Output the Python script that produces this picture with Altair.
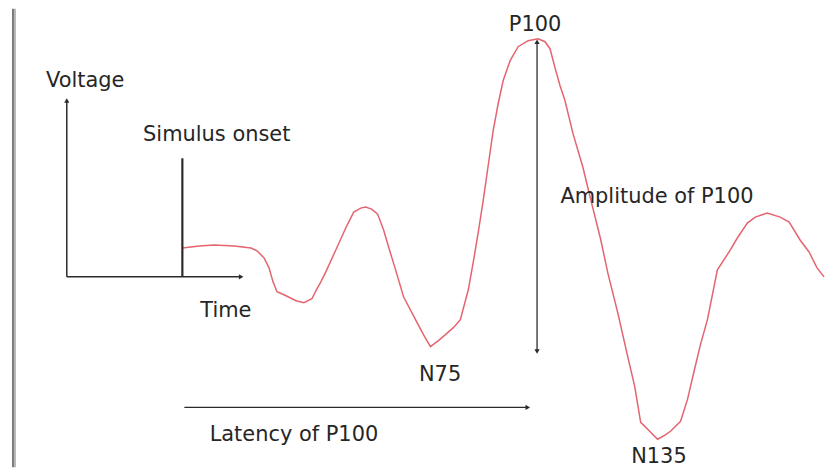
import altair as alt
import pandas as pd

# ---- Waveform (time in ms after stimulus onset, voltage in µV) ----
wave_time_ms = [0, 5.1, 9.6, 15.6, 20.7, 22.5, 24.6, 26.1, 27.3, 28.5, 30.6, 34.2, 36.6,
                39.0, 40.2, 41.7, 43.2, 46.2, 49.2, 51.6, 53.7, 55.2, 57.0, 58.8, 60.6,
                62.1, 64.2, 66.6, 70.2, 72.6, 74.7, 77.1, 79.2, 81.6, 83.7, 86.1, 87.6,
                89.1, 90.6, 92.1, 93.6, 95.1, 96.6, 98.7, 101.1, 104.1, 107.1, 109.2,
                110.7, 112.2, 113.7, 115.2, 117.6, 120.6, 123.0, 126.0, 128.1, 131.1,
                134.1, 136.2, 138.0, 140.1, 143.1, 145.2, 147.0, 150.0, 152.1, 154.2,
                156.0, 158.1, 161.1, 165.0, 167.1, 170.1, 172.5, 176.1, 180.0, 182.7,
                186.0, 188.7, 191.1, 193.2]
wave_voltage_uv = [-0.05, 0.05, 0.1, 0.05, -0.05, -0.2, -0.55, -1.05, -1.75, -2.25, -2.4,
                   -2.7, -2.8, -2.6, -2.2, -1.75, -1.25, -0.15, 0.95, 1.75, 1.95, 2.0, 1.9,
                   1.65, 0.85, 0.0, -1.15, -2.5, -3.65, -4.4, -5.0, -4.7, -4.4, -4.05,
                   -3.65, -2.15, -0.75, 0.75, 2.35, 4.1, 5.85, 7.2, 8.35, 9.35, 10.05,
                   10.35, 10.45, 10.3, 9.95, 9.0, 8.1, 7.35, 5.7, 4.0, 2.35, 0.35, -1.3,
                   -3.3, -5.5, -7.0, -8.8, -9.15, -9.65, -9.45, -9.25, -8.75, -7.65,
                   -6.15, -4.9, -3.65, -1.15, -0.15, 0.45, 1.2, 1.5, 1.7, 1.5, 1.25,
                   0.35, -0.25, -1.05, -1.5]

# ---- Annotation lines (start/end in the same time / voltage units) ----
seg_name = ["inset_y_axis", "inset_x_axis", "stimulus_onset", "latency", "amplitude"]
seg_t1 = [-34.8, -34.8, 0.0, 0.6, 106.8]
seg_v1 = [-1.5, -1.5, -1.5, -8.05, 10.3]
seg_t2 = [-34.8, 17.4, 0.0, 104.0, 106.8]
seg_v2 = [7.3, -1.5, 4.45, -8.05, -5.25]
seg_width = [1.5, 1.5, 2.2, 1.3, 1.3]

# ---- Arrow heads ----
head_t = [-34.8, 17.7, 104.0, 106.8, 106.8]
head_v = [7.35, -1.5, -8.05, 10.3, -5.25]
head_shape = ["triangle-up", "triangle-right", "triangle-right", "triangle-up", "triangle-down"]

# ---- Text labels ----
label_text = ["Voltage", "Simulus onset", "Time", "P100", "N75", "Amplitude of P100",
              "Latency of P100", "N135"]
label_t = [-29.25, 10.35, 13.1, 106.2, 77.6, 142.9, 33.6, 143.5]
label_v = [8.05, 5.3, -3.5, 10.85, -6.74, 2.19, -9.74, -10.85]

# ---- Left frame edge ----
frame_t = [-51.0, -50.4]
frame_color = ["#7a7a7a", "#b8b8b8"]

T_DOMAIN = [-52.5, 193.5]
V_DOMAIN = [-11.05, 11.95]

xs = alt.Scale(domain=T_DOMAIN, nice=False, zero=False)
ys = alt.Scale(domain=V_DOMAIN, nice=False, zero=False)

wave_df = pd.DataFrame({"t": wave_time_ms, "v": wave_voltage_uv,
                        "i": list(range(len(wave_time_ms)))})
seg_df = pd.DataFrame({"name": seg_name, "t1": seg_t1, "v1": seg_v1,
                       "t2": seg_t2, "v2": seg_v2, "w": seg_width})
head_df = pd.DataFrame({"t": head_t, "v": head_v, "shape": head_shape})
label_df = pd.DataFrame({"text": label_text, "t": label_t, "v": label_v})
frame_df = pd.DataFrame({"t": frame_t, "v1": [V_DOMAIN[0]] * 2, "v2": [V_DOMAIN[1]] * 2,
                         "c": frame_color})

frame = alt.Chart(frame_df).mark_rule(strokeWidth=2).encode(
    x=alt.X("t:Q", scale=xs, axis=None),
    y=alt.Y("v1:Q", scale=ys, axis=None),
    y2="v2:Q",
    color=alt.Color("c:N", scale=None, legend=None),
)

wave = alt.Chart(wave_df).mark_line(color="#e4646f", strokeWidth=1.5).encode(
    x=alt.X("t:Q", scale=xs, axis=None),
    y=alt.Y("v:Q", scale=ys, axis=None),
    order="i:Q",
)

segs = alt.Chart(seg_df).mark_rule(color="#2b2b2b").encode(
    x=alt.X("t1:Q", scale=xs, axis=None),
    y=alt.Y("v1:Q", scale=ys, axis=None),
    x2="t2:Q",
    y2="v2:Q",
    strokeWidth=alt.StrokeWidth("w:Q", scale=None, legend=None),
)

heads = alt.Chart(head_df).mark_point(filled=True, color="#2b2b2b", size=28, opacity=1).encode(
    x=alt.X("t:Q", scale=xs, axis=None),
    y=alt.Y("v:Q", scale=ys, axis=None),
    shape=alt.Shape("shape:N", scale=None, legend=None),
)

labels = alt.Chart(label_df).mark_text(
    font="DejaVu Sans", fontSize=21, color="#262626", align="center", baseline="alphabetic"
).encode(
    x=alt.X("t:Q", scale=xs, axis=None),
    y=alt.Y("v:Q", scale=ys, axis=None),
    text="text:N",
)

chart = alt.layer(frame, wave, segs, heads, labels).properties(
    width=820, height=460, padding=0, autosize=alt.AutoSizeParams(type="none"),
    background="white",
).configure_view(stroke=None)

chart.save("out.html", embed_options={"renderer": "svg", "actions": False})
